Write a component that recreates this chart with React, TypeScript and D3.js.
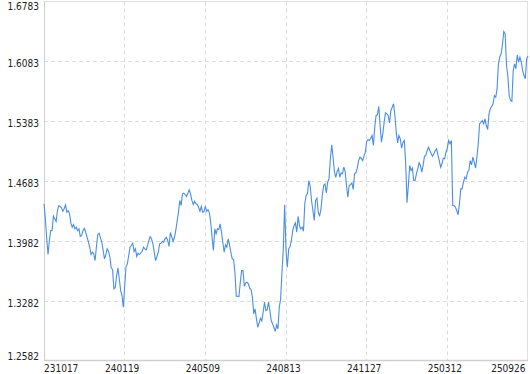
import React from "react";
import * as d3 from "d3";

const xLabels = ["231017", "240119", "240509", "240813", "241127", "250312", "250926"];
const yTicks = [1.2582, 1.3282, 1.3982, 1.4683, 1.5383, 1.6083, 1.6783];

const seg1 = [
  1.4422, 1.4250, 1.4017, 1.3830, 1.3994, 1.4110, 1.4110, 1.4277, 1.4247, 1.4215,
  1.4344, 1.4402, 1.4391, 1.4375, 1.4336, 1.4364, 1.4410, 1.4324, 1.4344, 1.4305,
  1.4196, 1.4149, 1.4180, 1.4130, 1.4149, 1.4110, 1.4130, 1.4040, 1.4052, 1.4110,
  1.4137, 1.4091, 1.4032, 1.3982, 1.3916, 1.3830, 1.3857, 1.3838, 1.3760, 1.3924,
  1.4064, 1.4079, 1.4025, 1.3974, 1.3877, 1.3780, 1.3830, 1.3897, 1.3869, 1.3799,
  1.3675, 1.3652, 1.3430, 1.3442, 1.3585, 1.3675, 1.3547, 1.3410, 1.3352, 1.3215,
  1.3457, 1.3690, 1.3722, 1.3819, 1.3916, 1.3935, 1.3962, 1.3865, 1.3897, 1.3807,
  1.3845, 1.3830, 1.3845, 1.3869, 1.3916, 1.3897, 1.3885, 1.3935, 1.3994, 1.4040,
  1.4013, 1.3955, 1.3857, 1.3760, 1.3807, 1.3857, 1.3955, 1.3962, 1.3985, 1.3974,
  1.4013, 1.4032, 1.3994, 1.3924, 1.4087, 1.4040, 1.3982, 1.4032, 1.4110, 1.4219,
  1.4324, 1.4461, 1.4402, 1.4539, 1.4546, 1.4531, 1.4507, 1.4546, 1.4585, 1.4539,
  1.4461, 1.4414, 1.4452, 1.4422, 1.4414, 1.4382, 1.4336, 1.4391, 1.4324, 1.4332,
];
const seg2 = [
  1.4394, 1.4332, 1.4355, 1.4317, 1.4207, 1.4032, 1.3877, 1.4130, 1.4072, 1.4130,
  1.4122, 1.4189, 1.4091, 1.3974, 1.3857, 1.3943, 1.3916, 1.4013, 1.3943, 1.3854,
  1.3780, 1.3772, 1.3624, 1.3344, 1.3344, 1.3340, 1.3507, 1.3643, 1.3643, 1.3460,
  1.3500, 1.3507, 1.3488, 1.3437, 1.3422, 1.3332, 1.3138, 1.3197, 1.3080, 1.2982,
  1.3033, 1.3087, 1.3056, 1.3157, 1.3274, 1.3177, 1.3188, 1.3274, 1.3177, 1.3060,
  1.3021, 1.2982, 1.2932, 1.3010, 1.2963, 1.3215, 1.3313, 1.3624, 1.3897, 1.4410,
  1.3877, 1.3682, 1.3897, 1.3924, 1.3994, 1.4110, 1.4169, 1.4200, 1.4091, 1.4277,
  1.4169, 1.4130, 1.4149, 1.4102, 1.4426, 1.4519, 1.4542, 1.4694, 1.4627, 1.4461,
  1.4344, 1.4227, 1.4461, 1.4487, 1.4324, 1.4277, 1.4364, 1.4519, 1.4636, 1.4655,
  1.4550, 1.4674, 1.4714, 1.4947, 1.5111, 1.4966, 1.4799, 1.4732, 1.4799, 1.4834,
  1.4732, 1.4784, 1.4772, 1.4849, 1.4799, 1.4636, 1.4499, 1.4636, 1.4644, 1.4667,
  1.4589, 1.4772, 1.4784, 1.4838, 1.4927, 1.4966, 1.4954, 1.4927, 1.4978, 1.5021,
];
const seg3 = [
  1.5149, 1.5172, 1.5161, 1.5184, 1.5219, 1.5102, 1.5316, 1.5453, 1.5461, 1.5561,
  1.5336, 1.5141, 1.5239, 1.5374, 1.5484, 1.5472, 1.5453, 1.5367, 1.5511, 1.5549,
  1.5589, 1.5453, 1.5258, 1.5134, 1.5219, 1.5181, 1.5071, 1.5141, 1.5161, 1.4907,
  1.4434, 1.4636, 1.4869, 1.4811, 1.4838, 1.4694, 1.4694, 1.4772, 1.4830, 1.4900,
  1.4869, 1.4791, 1.4869, 1.4978, 1.4986, 1.5044, 1.5083, 1.5044, 1.5005, 1.4978,
  1.5005, 1.5044, 1.5064, 1.4994, 1.4927, 1.4849, 1.4889, 1.4954, 1.4947, 1.5024,
  1.5071, 1.5161, 1.5122, 1.5161, 1.4402, 1.4402, 1.4382, 1.4344, 1.4294, 1.4422,
  1.4597, 1.4597, 1.4674, 1.4732, 1.4714, 1.4791, 1.4811, 1.4927, 1.4877, 1.4966,
  1.4907, 1.4838, 1.4966, 1.5122, 1.5356, 1.5374, 1.5394, 1.5356, 1.5414, 1.5336,
  1.5289, 1.5472, 1.5531, 1.5561, 1.5589, 1.5686, 1.5666, 1.5764, 1.6056, 1.6133,
  1.6173, 1.6278, 1.6433, 1.6406, 1.6036, 1.5919, 1.5686, 1.5628, 1.5616, 1.5978,
  1.6056, 1.5998, 1.6159, 1.6075, 1.6133, 1.6075, 1.5978, 1.5919, 1.5881, 1.6114,
  1.6147,
];

const values = [...seg1, ...seg2, ...seg3];

const W = 530;
const H = 374;
const left = 44;
const right = 528;
const top = 1.5;
const bottom = 361.5;
const FONT = '"DejaVu Sans Condensed", "DejaVu Sans", sans-serif';

export default function App() {
  const n = values.length;
  const x = d3.scaleLinear().domain([0, n - 1]).range([left, right]);
  const y = d3.scaleLinear().domain([yTicks[0], yTicks[yTicks.length - 1]]).range([bottom, top]);
  const tickIdx = xLabels.map((_, i) => Math.round((i * (n - 1)) / (xLabels.length - 1)));

  const line = d3
    .line<number>()
    .x((_, i) => x(i))
    .y((d) => y(d));

  const crisp = (v: number) => Math.floor(v) + 0.5;

  return (
    <svg
      width={W}
      height={H}
      style={{ position: "absolute", left: 0, top: 0, background: "#fff" }}
      fontFamily={FONT}
    >
      <rect x={0} y={0} width={W} height={H} fill="#fff" />
      {/* horizontal grid */}
      {yTicks.slice(1, -1).map((t) => (
        <line
          key={"h" + t}
          x1={left}
          x2={right}
          y1={crisp(y(t))}
          y2={crisp(y(t))}
          stroke="#dcdcdc"
          strokeDasharray="4,3"
        />
      ))}
      {/* vertical grid */}
      {tickIdx.slice(1, -1).map((ti) => (
        <line
          key={"v" + ti}
          x1={crisp(x(ti))}
          x2={crisp(x(ti))}
          y1={top}
          y2={bottom - 1}
          stroke="#dcdcdc"
          strokeDasharray="4,3"
        />
      ))}
      {/* frame */}
      <line x1={left} x2={right} y1={1.5} y2={1.5} stroke="#e0e0e0" />
      <line x1={527.5} x2={527.5} y1={1} y2={361} stroke="#e0e0e0" />
      <line x1={44.5} x2={44.5} y1={1} y2={361} stroke="#cfcfcf" />
      <line x1={44} x2={528} y1={360.5} y2={360.5} stroke="#cfcfcf" strokeWidth={1.5} />

      {/* data line */}
      <path d={line(values) || ""} fill="none" stroke="#4a8ee4" strokeWidth={1.1} />

      {/* y labels */}
      {yTicks.map((t, i) => {
        let by = y(t) + 5.2;
        if (i === yTicks.length - 1) by = 10;
        if (i === 0) by = 360;
        return (
          <text key={"yl" + t} x={39} y={by} textAnchor="end" fontSize={10} fill="#222">
            {t.toFixed(4)}
          </text>
        );
      })}
      {/* x labels */}
      {xLabels.map((lab, i) => {
        const ti = tickIdx[i];
        let anchor: "start" | "middle" | "end" = "middle";
        let px = x(ti) - 2.5;
        if (i === 0) {
          anchor = "start";
          px = 44;
        } else if (i === xLabels.length - 1) {
          anchor = "end";
          px = 525.5;
        }
        return (
          <text key={"xl" + lab} x={px} y={371.5} textAnchor={anchor} fontSize={10} fill="#222">
            {lab}
          </text>
        );
      })}
    </svg>
  );
}
